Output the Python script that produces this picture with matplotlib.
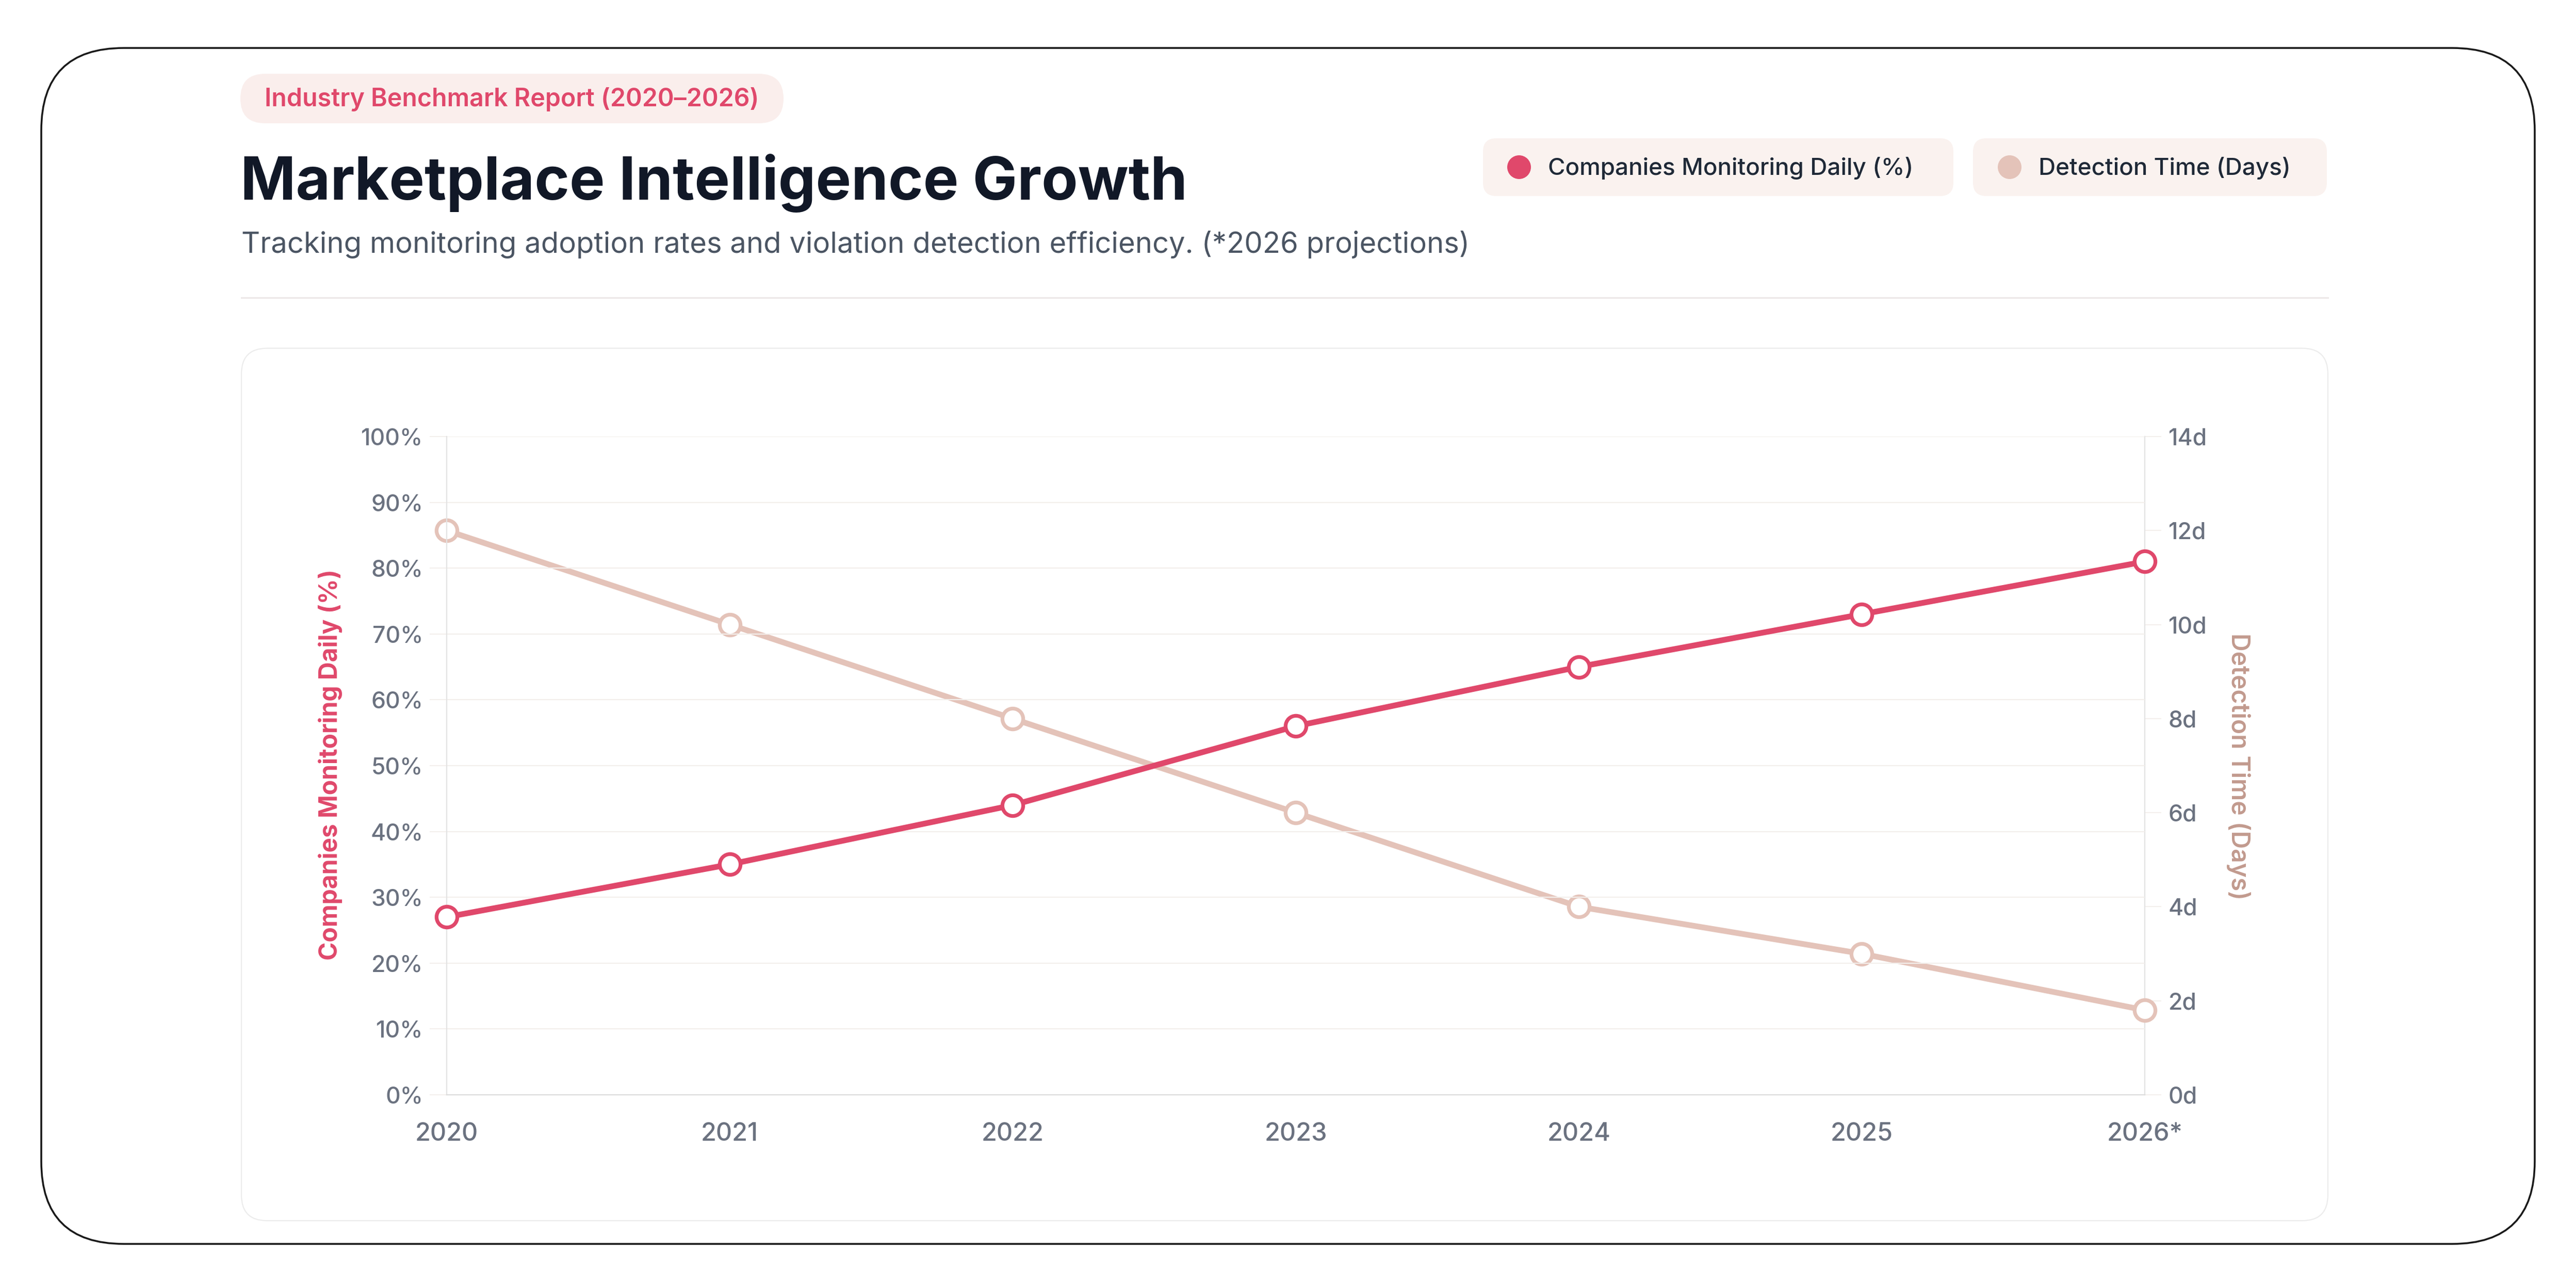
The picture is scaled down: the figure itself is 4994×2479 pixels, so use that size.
#!/usr/bin/env python3

import matplotlib
matplotlib.use("Agg")
import matplotlib.pyplot as plt
from matplotlib.patches import FancyBboxPatch, Circle
from matplotlib.ticker import FuncFormatter, MultipleLocator


YEARS = ["2020", "2021", "2022", "2023", "2024", "2025", "2026*"]
MONITORING_PCT = [27, 35, 44, 56, 65, 73, 81]
DETECTION_DAYS = [12, 10, 8, 6, 4, 3, 1.8]
SERIES_NAMES = ["Companies Monitoring Daily (%)", "Detection Time (Days)"]

BADGE = "Industry Benchmark Report (2020\u20132026)"
TITLE = "Marketplace Intelligence Growth"
SUBTITLE = "Tracking monitoring adoption rates and violation detection efficiency. (*2026 projections)"

RED = "#E0486B"
TAN = "#E4C3B9"
TAN_DARK = "#C29A8E"
TICK_GRAY = "#6B7280"
GRID = "#F3EFEC"
AXIS_LINE = "#E3E3E3"

W, H = 4994, 2479
FONT = ["Inter", "DejaVu Sans"]


def main():
    plt.rcParams["font.family"] = FONT
    fig = plt.figure(figsize=(W / 100, H / 100), dpi=100)
    fig.patch.set_facecolor("white")

    # pixel-space overlay for the card decoration and headings
    bg = fig.add_axes([0, 0, 1, 1], zorder=0)
    bg.set_xlim(0, W)
    bg.set_ylim(H, 0)
    bg.axis("off")

    def rbox(x0, y0, x1, y1, r, **kw):
        bg.add_patch(FancyBboxPatch((x0, y0), x1 - x0, y1 - y0,
                                    boxstyle=f"round,pad=0,rounding_size={r}", **kw))

    rbox(80, 93, 4914, 2411, 160, facecolor="white", edgecolor="#1A1A1A", linewidth=2.6)

    # badge
    rbox(466, 143, 1519, 239, 48, facecolor="#FAEEEC", edgecolor="none")
    bg.text(513, 192, BADGE, color=RED, fontsize=34.8, fontweight="semibold",
            va="center", ha="left")

    bg.text(466, 387, TITLE, color="#111827", fontsize=83, fontweight="bold",
            va="baseline", ha="left")
    bg.text(468, 490, SUBTITLE, color="#4B5563", fontsize=40.4,
            va="baseline", ha="left")
    bg.plot([468, 4513], [577, 577], color="#EDE8E8", linewidth=2.2)

    # legend chips
    chips = [(2875, 3787, 2945, RED), (3825, 4511, 3896, TAN)]
    for (x0, x1, cx, col), name in zip(chips, SERIES_NAMES):
        rbox(x0, 268, x1, 380, 26, facecolor="#FAF2EF", edgecolor="none")
        bg.add_patch(Circle((cx, 324), 23, facecolor=col, edgecolor="none"))
        bg.text(cx + 56, 326, name, color="#1F2937", fontsize=33,
                fontweight="medium", va="center", ha="left")

    # chart card
    rbox(468, 675, 4513, 2366, 50, facecolor="white", edgecolor="#ECECEC", linewidth=1.6)

    # axis titles
    bg.text(640, 1482, SERIES_NAMES[0], color=RED, fontsize=34.5, fontweight="bold",
            rotation=90, va="center", ha="center")
    bg.text(4340, 1486, SERIES_NAMES[1], color=TAN_DARK, fontsize=34.5,
            fontweight="semibold", rotation=270, va="center", ha="center")

    left, right, top, bottom = 866, 4158, 846, 2122
    ax = fig.add_axes([left / W, 1 - bottom / H, (right - left) / W, (bottom - top) / H])
    ax2 = ax.twinx()
    ax.set_zorder(ax2.get_zorder() + 1)
    ax.patch.set_visible(False)

    x = list(range(len(YEARS)))
    ax.plot(x, MONITORING_PCT, color=RED, linewidth=8, marker="o", markersize=29,
            markerfacecolor="white", markeredgecolor=RED, markeredgewidth=5.2,
            clip_on=False, zorder=5)
    ax2.plot(x, DETECTION_DAYS, color=TAN, linewidth=8, marker="o", markersize=29,
             markerfacecolor="white", markeredgecolor=TAN, markeredgewidth=5.2,
             clip_on=False, zorder=4)

    ax.set_xlim(0, len(YEARS) - 1)
    ax.set_ylim(0, 100)
    ax2.set_ylim(0, 14)
    ax.set_xticks(x)
    ax.set_xticklabels(YEARS)
    ax.yaxis.set_major_locator(MultipleLocator(10))
    ax.yaxis.set_major_formatter(FuncFormatter(lambda v, _: f"{v:.0f}%"))
    ax2.yaxis.set_major_locator(MultipleLocator(2))
    ax2.yaxis.set_major_formatter(FuncFormatter(lambda v, _: f"{v:.0f}d"))

    ax.grid(axis="y", color=GRID, linewidth=1.6)
    ax.grid(axis="x", visible=False)
    ax.set_axisbelow(True)

    ax.tick_params(axis="y", length=24, width=1.4, color=GRID, pad=9,
                   labelsize=32, labelcolor=TICK_GRAY)
    ax.tick_params(axis="x", length=0, pad=38, labelsize=35, labelcolor=TICK_GRAY)
    ax2.tick_params(axis="y", length=23, width=1.4, color=GRID, pad=10,
                    labelsize=32, labelcolor=TICK_GRAY)
    for lab in ax.get_xticklabels() + ax.get_yticklabels() + ax2.get_yticklabels():
        lab.set_fontweight("medium")

    ax.spines["top"].set_visible(False)
    ax2.spines["top"].set_visible(False)
    ax.spines["right"].set_visible(False)
    ax2.spines["left"].set_visible(False)
    ax2.spines["bottom"].set_visible(False)
    ax.spines["left"].set_color(AXIS_LINE)
    ax.spines["bottom"].set_color("#DCDCDC")
    ax2.spines["right"].set_color(AXIS_LINE)
    for sp in (ax.spines["left"], ax.spines["bottom"], ax2.spines["right"]):
        sp.set_linewidth(1.6)

    fig.savefig("out.png", dpi=100, facecolor="white")
    plt.close(fig)


if __name__ == "__main__":
    main()
